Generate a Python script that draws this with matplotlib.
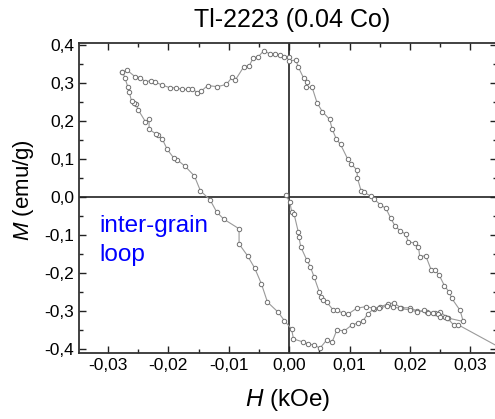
import matplotlib
matplotlib.use("Agg")
import matplotlib.pyplot as plt
from matplotlib.ticker import MultipleLocator, FuncFormatter

plt.rcParams["font.family"] = ["Liberation Sans", "DejaVu Sans"]
plt.rcParams["mathtext.fontset"] = "custom"
plt.rcParams["mathtext.it"] = "Liberation Sans:italic"
plt.rcParams["mathtext.rm"] = "Liberation Sans"

# main hysteresis loop: upper branch, right descending branch, lower branch, left branch
loop_h = [
    -0.0276, -0.0268, -0.0255, -0.0247, -0.0238, -0.0229, -0.0223, -0.0210, -0.0197, -0.0188,
    -0.0177, -0.0167, -0.0161, -0.0152, -0.0146, -0.0135, -0.0119, -0.0104, -0.0094, -0.0089,
    -0.0075, -0.0066, -0.0060, -0.0051, -0.0042, -0.0032, -0.0024, -0.0015, -0.0008, 0.0000,
    0.0000, 0.0011, 0.0015,
    0.0024, 0.0030, 0.0027, 0.0038, 0.0046, 0.0055, 0.0067, 0.0071, 0.0078, 0.0085,
    0.0097, 0.0103, 0.0112, 0.0113, 0.0119, 0.0124, 0.0136, 0.0140, 0.0151, 0.0160,
    0.0168, 0.0175, 0.0184, 0.0193, 0.0197, 0.0208, 0.0214, 0.0216, 0.0226, 0.0235,
    0.0241, 0.0248, 0.0257, 0.0265, 0.0269, 0.0283, 0.0288,
    0.0263, 0.0250, 0.0241, 0.0228, 0.0211, 0.0200, 0.0185, 0.0173, 0.0163, 0.0150,
    0.0140, 0.0130, 0.0122, 0.0114, 0.0104, 0.0091, 0.0079, 0.0071, 0.0062, 0.0051,
    0.0041, 0.0031, 0.0023, 0.0007, 0.0004,
    -0.0008, -0.0018, -0.0036, -0.0046, -0.0057, -0.0069, -0.0083, -0.0083, -0.0108, -0.0120,
    -0.0131, -0.0147, -0.0157, -0.0172, -0.0185, -0.0191, -0.0202, -0.0210, -0.0217, -0.0221,
    -0.0232, -0.0232, -0.0238, -0.0250, -0.0254, -0.0257, -0.0261, -0.0265, -0.0267, -0.0272,
    -0.0276,
]
loop_m = [
    0.329, 0.334, 0.317, 0.315, 0.304, 0.307, 0.304, 0.295, 0.288, 0.288,
    0.284, 0.284, 0.286, 0.275, 0.279, 0.294, 0.291, 0.297, 0.317, 0.309,
    0.344, 0.346, 0.366, 0.370, 0.386, 0.377, 0.377, 0.375, 0.368, 0.368,
    0.359, 0.361, 0.343,
    0.313, 0.304, 0.289, 0.289, 0.249, 0.225, 0.205, 0.180, 0.153, 0.139,
    0.100, 0.087, 0.072, 0.050, 0.017, 0.013, 0.002, -0.004, -0.020, -0.029,
    -0.055, -0.075, -0.089, -0.097, -0.117, -0.121, -0.130, -0.156, -0.154, -0.191,
    -0.191, -0.204, -0.233, -0.250, -0.266, -0.298, -0.327,
    -0.318, -0.302, -0.304, -0.302, -0.299, -0.291, -0.291, -0.278, -0.281, -0.289,
    -0.294, -0.307, -0.326, -0.331, -0.336, -0.352, -0.349, -0.381, -0.376, -0.397,
    -0.389, -0.386, -0.381, -0.373, -0.347,
    -0.325, -0.303, -0.276, -0.228, -0.187, -0.154, -0.123, -0.083, -0.058, -0.039,
    -0.007, 0.017, 0.056, 0.081, 0.098, 0.103, 0.126, 0.153, 0.163, 0.167,
    0.179, 0.205, 0.199, 0.230, 0.246, 0.247, 0.253, 0.278, 0.289, 0.315,
    0.329,
]

# initial curve starting at the origin, running out past the right edge
virgin_h = [
    -0.0006, 0.0001, 0.0004, 0.0008, 0.0015, 0.0016, 0.0019, 0.0029, 0.0035, 0.0041,
    0.0050, 0.0052, 0.0056, 0.0062, 0.0073, 0.0079, 0.0089, 0.0097, 0.0112, 0.0127,
    0.0139, 0.0149, 0.0162, 0.0172, 0.0183, 0.0200, 0.0211, 0.0223, 0.0230, 0.0238,
    0.0247, 0.0249, 0.0258, 0.0262, 0.0272, 0.0280, 0.0400,
]
virgin_m = [
    0.005, -0.012, -0.038, -0.044, -0.091, -0.104, -0.130, -0.165, -0.183, -0.209,
    -0.250, -0.263, -0.270, -0.276, -0.297, -0.298, -0.305, -0.308, -0.292, -0.288,
    -0.292, -0.292, -0.286, -0.289, -0.292, -0.297, -0.301, -0.298, -0.304, -0.304,
    -0.307, -0.314, -0.314, -0.318, -0.336, -0.336, -0.440,
]

x_ticks = [-0.03, -0.02, -0.01, 0.00, 0.01, 0.02, 0.03]
y_ticks = [-0.4, -0.3, -0.2, -0.1, 0.0, 0.1, 0.2, 0.3, 0.4]

fig = plt.figure(figsize=(4.95, 4.19), dpi=100)
ax = fig.add_axes([79 / 495, 66 / 419, 418 / 495, 310 / 419])

ax.axhline(0, color="#333333", lw=1.3, zorder=1)
ax.axvline(0, color="#333333", lw=1.3, zorder=1)

style = dict(color="#9a9a9a", lw=0.8, marker="o", ms=3.2, mfc="white",
             mec="#707070", mew=0.7, zorder=3)
ax.plot(loop_h, loop_m, **style)
ax.plot(virgin_h, virgin_m, **style)

ax.set_xlim(-0.0348, 0.0344)
ax.set_ylim(-0.41, 0.406)
ax.set_xticks(x_ticks)
ax.set_yticks(y_ticks)
ax.xaxis.set_minor_locator(MultipleLocator(0.005))
ax.yaxis.set_minor_locator(MultipleLocator(0.05))
ax.xaxis.set_major_formatter(FuncFormatter(lambda v, p: f"{v:.2f}".replace(".", ",").replace("-0,00", "0,00")))
ax.yaxis.set_major_formatter(FuncFormatter(lambda v, p: f"{v:.1f}".replace(".", ",").replace("-0,0", "0,0")))
ax.tick_params(which="both", direction="in", top=True, right=True, width=1.0,
               colors="#222222", labelsize=12.5, labelcolor="black")
ax.tick_params(which="major", length=5)
ax.tick_params(which="minor", length=3)
for s in ax.spines.values():
    s.set_linewidth(1.3)
    s.set_color("#333333")

ax.set_xlabel(r"$H$ (kOe)", fontsize=17.5)
ax.xaxis.set_label_coords(0.5, (353 - 400) / 310)
ax.xaxis.label.set_va("center")
ax.set_ylabel(r"$M$ (emu/g)", fontsize=16)
ax.yaxis.set_label_coords((24 - 79) / 418, (353 - 190) / 310)
ax.yaxis.label.set_va("center")
fig.text(292 / 495, 1 - 20 / 419, "Tl-2223 (0.04 Co)", fontsize=18,
         ha="center", va="center")
ax.text(-0.0315, -0.0905, "inter-grain", color="#0000ff", fontsize=17.5,
        ha="left", va="baseline")
ax.text(-0.0315, -0.168, "loop", color="#0000ff", fontsize=17.5,
        ha="left", va="baseline")

fig.savefig("out.png", dpi=100)
